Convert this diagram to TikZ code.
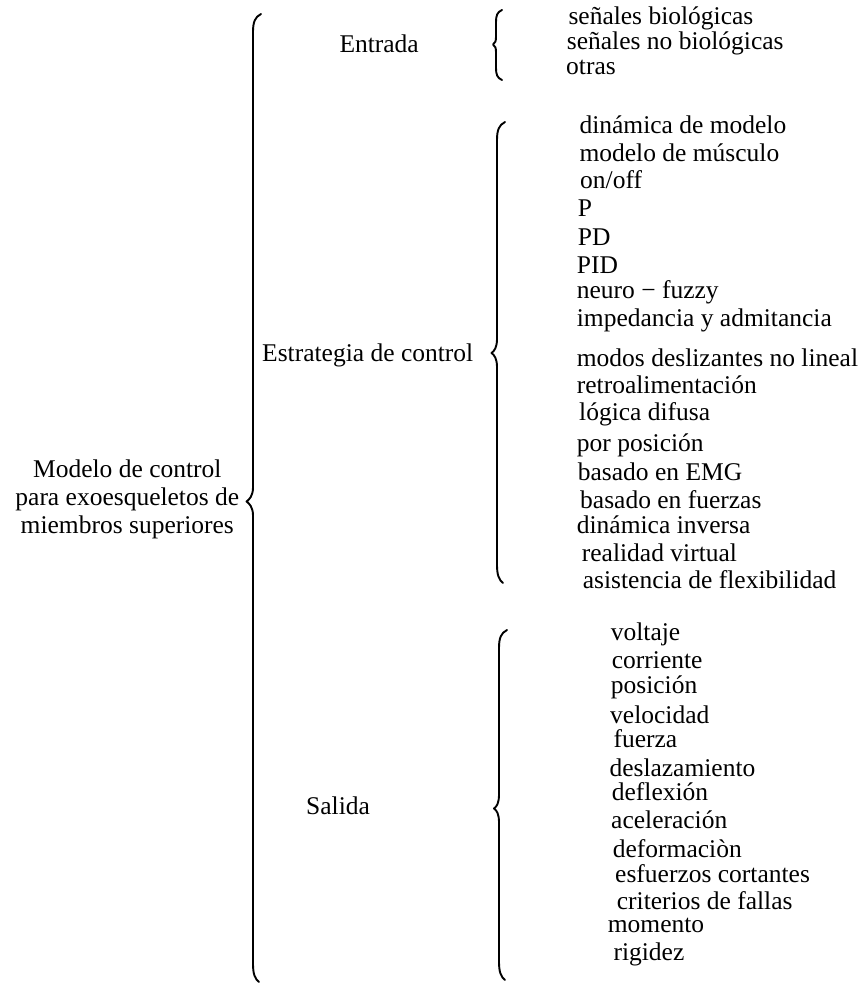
\documentclass[tikz,border=0pt]{standalone}
\usepackage{fontspec}
\setmainfont{Liberation Serif}
\tikzset{
  brc/.style={draw=black, line width=1.9pt, line cap=round, line join=round},
  itm/.style={anchor=base west, inner sep=0pt, font=\fontsize{25.5}{28}\selectfont},
  hdr/.style={anchor=base west, inner sep=0pt, font=\fontsize{25.5}{28}\selectfont},
  mainlbl/.style={anchor=base, inner sep=0pt, font=\fontsize{25.5}{28}\selectfont}
}
\newcommand\mybrace[5]{% #1 x line, #2 top, #3 mid, #4 bottom, #5 tip x
  \draw[brc] ({#1+8},#2) .. controls ({#1+2},{#2+3}) and (#1,{#2+8}) .. (#1,{#2+18})
    -- (#1,{#3-14}) .. controls (#1,{#3-6}) and ({#5+3},{#3-2}) .. (#5,#3)
    .. controls ({#5+3},{#3+2}) and (#1,{#3+6}) .. (#1,{#3+14})
    -- (#1,{#4-18}) .. controls (#1,{#4-8}) and ({#1+2},{#4-3}) .. ({#1+6},#4);}
\begin{document}
\begin{tikzpicture}[x=1pt,y=-1pt]
\useasboundingbox (0,0) rectangle (860,984);
% braces
\mybrace{253}{14}{501.5}{982}{246.5}
\draw[brc] (502,10) .. controls (497,12) and (496,16) .. (496,22) -- (496,36)
  .. controls (496,41) and (495.5,43) .. (493,44.5) .. controls (495.5,46) and (496,48) .. (496,53)
  -- (496,68) .. controls (496,74) and (497,78) .. (502,80);
\mybrace{497}{122}{353}{583}{491.5}
\mybrace{499}{630}{808.5}{980}{494}
% main label
\node[mainlbl] (m1) at (127.3,477.3) {Modelo de control};
\node[mainlbl] (m2) at (127.3,505.5) {para exoesqueletos de};
\node[mainlbl] (m3) at (127.3,533.3) {miembros superiores};
% headers
\node[hdr] (entrada) at (339.3,52.3) {Entrada};
\node[hdr] (estrategia) at (262,361) {Estrategia de control};
\node[hdr] (salida) at (306,814.5) {Salida};
% entrada items
\node[itm] (e1) at (568.3,25) {señales biológicas};
\node[itm] (e2) at (566.7,50) {señales no biológicas};
\node[itm] (e3) at (566,75) {otras};
% estrategia items
\node[itm] (s1) at (579.3,133.3) {dinámica de modelo};
\node[itm] (s2) at (579.3,161.7) {modelo de músculo};
\node[itm] (s3) at (580,188.3) {on/off};
\node[itm] (s4) at (577.7,216.7) {P};
\node[itm] (s5) at (577.7,245) {PD};
\node[itm] (s6) at (576.7,273.3) {PID};
\node[itm] (s7) at (576.7,298.3) {neuro − fuzzy};
\node[itm] (s8) at (576.7,326.7) {impedancia y admitancia};
\node[itm] (s9) at (576.7,366.7) {modos deslizantes no lineal};
\node[itm] (s10) at (576.7,393.3) {retroalimentación};
\node[itm] (s11) at (579,420) {lógica difusa};
\node[itm] (s12) at (576.7,451.7) {por posición};
\node[itm] (s13) at (577.7,480) {basado en EMG};
\node[itm] (s14) at (580,508.3) {basado en fuerzas};
\node[itm] (s15) at (576.7,533.3) {dinámica inversa};
\node[itm] (s16) at (581.7,561.7) {realidad virtual};
\node[itm] (s17) at (582.7,588.3) {asistencia de flexibilidad};
% salida items
\node[itm] (o1) at (610.7,640) {voltaje};
\node[itm] (o2) at (611.7,668.3) {corriente};
\node[itm] (o3) at (610.7,693.3) {posición};
\node[itm] (o4) at (610,723.3) {velocidad};
\node[itm] (o5) at (613.3,747.3) {fuerza};
\node[itm] (o6) at (609.3,776) {deslazamiento};
\node[itm] (o7) at (611.7,800) {deflexión};
\node[itm] (o8) at (611,828.3) {aceleración};
\node[itm] (o9) at (612.7,857.3) {deformaciòn};
\node[itm] (o10) at (615,882.7) {esfuerzos cortantes};
\node[itm] (o11) at (616.7,909.3) {criterios de fallas};
\node[itm] (o12) at (607.7,932.3) {momento};
\node[itm] (o13) at (613.3,960) {rigidez};
\end{tikzpicture}
\end{document}
